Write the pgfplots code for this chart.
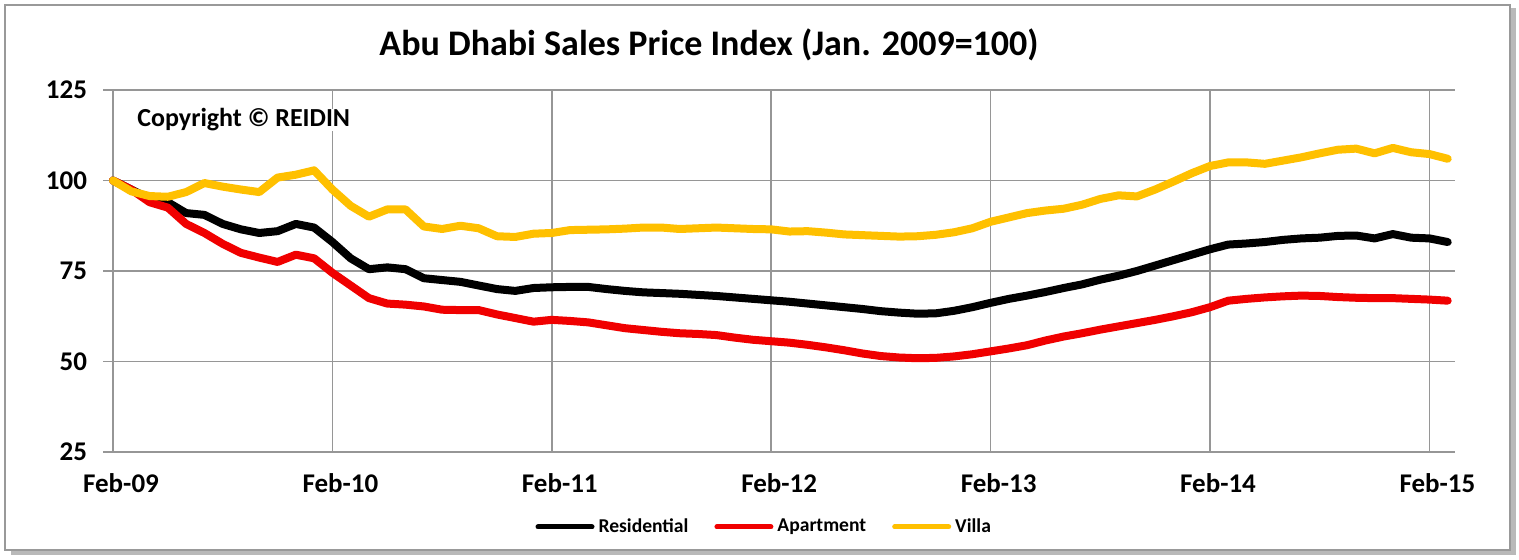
\documentclass[border=0pt]{standalone}
\usepackage{fontspec}
\setmainfont{Carlito}
\usepackage{pgfplots}
\pgfplotsset{compat=1.18}

\definecolor{villa}{RGB}{255,192,0}
\definecolor{apt}{RGB}{240,0,0}
\definecolor{gridgray}{RGB}{150,150,150}

% month index 0 = Jan-09 (=100), 73 = Feb-15
\pgfplotstableread{
m res apt villa
0 100 100 100
1 97.5 97.5 97
2 95 94 95.7
3 94 92.5 95.5
4 91 88 96.8
5 90.5 85.5 99.3
6 88 82.5 98.3
7 86.5 80 97.5
8 85.5 78.7 96.8
9 86 77.5 100.8
10 88 79.5 101.6
11 87 78.5 102.8
12 83 74.5 97.5
13 78.5 71 93
14 75.5 67.5 90
15 76 66 92
16 75.5 65.7 92
17 73 65.2 87.3
18 72.5 64.3 86.6
19 72 64.2 87.5
20 71 64.2 86.8
21 70 63 84.6
22 69.5 62 84.4
23 70.3 61 85.3
24 70.5 61.5 85.5
25 70.6 61.2 86.3
26 70.6 60.8 86.4
27 70 60 86.5
28 69.5 59.2 86.7
29 69.1 58.7 87
30 68.9 58.2 87
31 68.7 57.8 86.6
32 68.4 57.6 86.8
33 68.1 57.3 87
34 67.7 56.6 86.8
35 67.3 56 86.6
36 66.9 55.6 86.5
37 66.5 55.2 85.9
38 66 54.6 86
39 65.5 53.9 85.6
40 65 53.1 85.1
41 64.5 52.2 84.9
42 63.9 51.5 84.7
43 63.5 51.1 84.5
44 63.2 50.9 84.6
45 63.3 51 85
46 64 51.4 85.7
47 65 52 86.8
48 66.2 52.8 88.6
49 67.3 53.6 89.8
50 68.2 54.5 91
51 69.2 55.8 91.7
52 70.3 56.9 92.2
53 71.3 57.8 93.3
54 72.6 58.8 94.9
55 73.7 59.7 95.9
56 75 60.6 95.6
57 76.5 61.5 97.5
58 78 62.5 99.7
59 79.5 63.6 102
60 81 65 104
61 82.3 66.8 105
62 82.6 67.3 105
63 83 67.7 104.6
64 83.6 68 105.5
65 84 68.2 106.4
66 84.2 68.1 107.5
67 84.7 67.8 108.5
68 84.8 67.6 108.8
69 84 67.5 107.5
70 85.2 67.5 109
71 84.2 67.3 107.8
72 84 67.1 107.3
73 83 66.8 106
}\sales

\begin{document}
\begin{tikzpicture}
% 1 px of the reference = 0.5pt, origin at the lower left of the plot area
\useasboundingbox (-56.5pt,-54pt) rectangle (703pt,226pt);
\fill[gray!55] (-51pt,-51.5pt) rectangle (701.5pt,222pt);
\filldraw[fill=white,draw=gray!80,line width=0.8pt] (-54pt,-49pt) rectangle (698.5pt,223.5pt);
\begin{axis}[
  at={(0,0)}, anchor=south west,
  scale only axis,
  width=671pt, height=181pt,
  xmin=0, xmax=73.4,
  ymin=25, ymax=125,
  xtick={0,12,24,36,48,60,72},
  xticklabels={Feb-09,Feb-10,Feb-11,Feb-12,Feb-13,Feb-14,Feb-15},
  ytick={25,50,75,100,125},
  grid=major,
  grid style={gridgray,line width=0.8pt},
  axis x line*=bottom,
  axis y line*=left,
  axis line style={gridgray,line width=0.8pt,-},
  x tick style={draw=none},
  y tick style={gridgray,line width=0.8pt},
  tick align=outside,
  major tick length=5pt,
  /pgf/number format/assume math mode=true,
  ticklabel style={font=\bfseries\fontsize{13.5}{14}\selectfont},
  yticklabel style={xshift=-4.5pt},
  xticklabel style={yshift=-2pt,xshift=4pt},
  legend columns=3,
  legend style={at={(0.486,-0.207)},anchor=center,draw=none,fill=none,
    font=\bfseries\fontsize{9.8}{11}\selectfont,
    /tikz/every even column/.append style={column sep=11pt}},
  legend image code/.code={\draw[#1,line width=2.5pt] (0pt,0pt) -- (27pt,0pt);},
  every axis plot/.append style={line width=4pt,line join=round,line cap=round},
  clip=false,
]
\addplot[black] table[x=m,y=res] {\sales};
\addplot[apt] table[x=m,y=apt] {\sales};
\addplot[villa] table[x=m,y=villa] {\sales};
\legend{Residential,Apartment,Villa}
\end{axis}
\node[anchor=west,fill=white,inner xsep=2pt,inner ysep=0pt,font=\bfseries\fontsize{13}{15}\selectfont] at (10pt,166pt) {Copyright © REIDIN};
\node[font=\bfseries\fontsize{18}{20}\selectfont] at (298pt,203.5pt) {Abu Dhabi Sales Price Index (Jan. 2009=100)};
\end{tikzpicture}
\end{document}
